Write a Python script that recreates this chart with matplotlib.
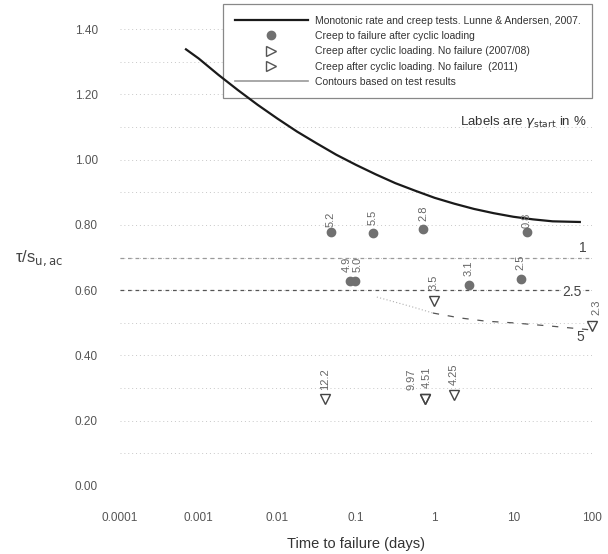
import matplotlib
matplotlib.use("Agg")
import matplotlib.pyplot as plt
from matplotlib.lines import Line2D

plt.rcParams["font.family"] = ["Liberation Sans", "DejaVu Sans"]

# ---- data ----
mono_x = [6.9e-4, 1e-3, 1.78e-3, 3.16e-3, 5.62e-3, 0.01, 0.0178, 0.0316, 0.0562, 0.1,
          0.178, 0.316, 0.562, 1, 1.78, 3.16, 5.62, 10, 17.8, 31.6, 70]
mono_y = [1.338, 1.310, 1.260, 1.213, 1.168, 1.126, 1.086, 1.050, 1.015, 0.984,
          0.955, 0.928, 0.905, 0.883, 0.865, 0.849, 0.836, 0.825, 0.817, 0.811, 0.809]

fail_x = [0.048, 0.164, 0.71, 14.8, 0.084, 0.097, 2.72, 12.4]
fail_y = [0.778, 0.775, 0.787, 0.778, 0.628, 0.628, 0.616, 0.634]
fail_lab = ["5.2", "5.5", "2.8", "0.8", "4.9", "5.0", "3.1", "2.5"]

nf07_x = [0.98, 0.040, 0.75]
nf07_y = [0.567, 0.267, 0.267]
nf07_lab = ["3.5", "12.2", "9.97"]

nf11_x = [100, 0.75, 1.75]
nf11_y = [0.490, 0.267, 0.279]
nf11_lab = ["2.3", "4.51", "4.25"]

c1_y = 0.70
c25_y = 0.60
c5_x = [0.184, 0.5, 0.95, 2.1, 4.5, 9.8, 30, 100]
c5_y = [0.579, 0.550, 0.530, 0.515, 0.505, 0.500, 0.490, 0.478]

xticks = [1e-4, 1e-3, 1e-2, 0.1, 1, 10, 100]
xtick_lab = ["0.0001", "0.001", "0.01", "0.1", "1", "10", "100"]
yticks = [0.0, 0.2, 0.4, 0.6, 0.8, 1.0, 1.2, 1.4]

# label offsets in pixels (dx, dy)
fail_off = [(0, 5), (0, 8), (0, 8), (0, 4), (-3, 9), (3, 9), (0, 9), (0, 9)]
nf07_off = [(0, 11), (0, 9), (-13, 9)]
nf11_off = [(4, 11), (2, 11), (0, 10)]

fig = plt.figure(figsize=(6.08, 5.54), dpi=100)
ax = fig.add_axes([120 / 608, 1 - 486 / 554, 472 / 608, 483 / 554])
ax.set_xscale("log")
ax.set_xlim(1e-4, 100)
ax.set_ylim(0, 1.48)

for s in ax.spines.values():
    s.set_visible(False)
ax.tick_params(length=0, colors="#555555", labelsize=8.5)
ax.set_xticks(xticks)
ax.set_xticklabels(xtick_lab)
ax.minorticks_off()
ax.set_yticks(yticks)
ax.set_yticklabels([f"{v:.2f}" for v in yticks])
ax.tick_params(axis="y", pad=16)
ax.tick_params(axis="x", pad=19)

# grid
for g in [i / 10 for i in range(0, 15)]:
    ax.axhline(g, color="#c8c8c8", lw=0.7, ls=(0, (1, 3)), zorder=0.5)

# contours
ax.axhline(c1_y, color="#9a9a9a", lw=0.9, ls=(0, (3, 3)), zorder=1.6)
ax.axhline(c25_y, color="#555555", lw=0.9, ls=(0, (3, 3)), zorder=1.6)
ax.plot(c5_x[:3], c5_y[:3], color="#b0b0b0", lw=0.8, ls=(0, (1, 2)), zorder=1.6)
ax.plot(c5_x[2:], c5_y[2:], color="#555555", lw=0.9, ls=(0, (5, 7)), zorder=1.6)
ax.text(76, 0.729, "1", fontsize=10, color="#444444", ha="center", va="center")
ax.text(55, 0.594, "2.5", fontsize=10, color="#444444", ha="center", va="center",
        bbox=dict(facecolor="white", edgecolor="none", pad=0.5))
ax.text(70, 0.456, "5", fontsize=10, color="#444444", ha="center", va="center")

# monotonic curve
ax.plot(mono_x, mono_y, color="#1a1a1a", lw=1.6, zorder=3)

# points
ax.plot(fail_x, fail_y, "o", color="#707070", ms=6, zorder=4)
ax.plot(nf07_x, nf07_y, "v", mfc="white", mec="#444444", mew=1.0, ms=7, zorder=4, clip_on=False)
ax.plot(nf11_x, nf11_y, "v", mfc="none", mec="#444444", mew=1.0, ms=7, zorder=4, clip_on=False)

for xs, ys, labs, offs in [(fail_x, fail_y, fail_lab, fail_off),
                          (nf07_x, nf07_y, nf07_lab, nf07_off),
                          (nf11_x, nf11_y, nf11_lab, nf11_off)]:
    for x, y, lab, (dx, dy) in zip(xs, ys, labs, offs):
        ax.annotate(lab, (x, y), xytext=(dx, dy), textcoords="offset pixels",
                    rotation=90, ha="center", va="bottom", fontsize=8,
                    color="#666666", annotation_clip=False, zorder=5)

# legend
handles = [
    Line2D([], [], color="#1a1a1a", lw=1.6),
    Line2D([], [], ls="none", marker="o", color="#707070", ms=6),
    Line2D([], [], ls="none", marker=">", mfc="white", mec="#555555", ms=7),
    Line2D([], [], ls="none", marker=">", mfc="white", mec="#555555", ms=7),
    Line2D([], [], color="#999999", lw=1.2),
]
labels = [
    "Monotonic rate and creep tests. Lunne & Andersen, 2007.",
    "Creep to failure after cyclic loading",
    "Creep after cyclic loading. No failure (2007/08)",
    "Creep after cyclic loading. No failure  (2011)",
    "Contours based on test results",
]
leg = ax.legend(handles, labels, loc="upper right", bbox_to_anchor=(1.0, 0.997),
                fontsize=7.5, handlelength=7.0, handletextpad=0.7, labelspacing=0.5,
                borderpad=1.1, borderaxespad=0, fancybox=False, framealpha=1,
                edgecolor="#888888", labelcolor="#333333")
leg.get_frame().set_linewidth(0.9)
leg.set_zorder(2)

ax.text(85, 1.115, r"Labels are $\gamma_{\rm start}$ in %", fontsize=9.5,
        color="#333333", ha="right", va="center")

ax.set_xlabel("Time to failure (days)", fontsize=10.5, color="#333333", labelpad=9)
fig.text(15 / 608, 1 - 258 / 554, r"τ/s$_{\mathrm{u,ac}}$", fontsize=12, color="#444444",
         ha="left", va="center")

fig.savefig("out.png", dpi=100, facecolor="white")
